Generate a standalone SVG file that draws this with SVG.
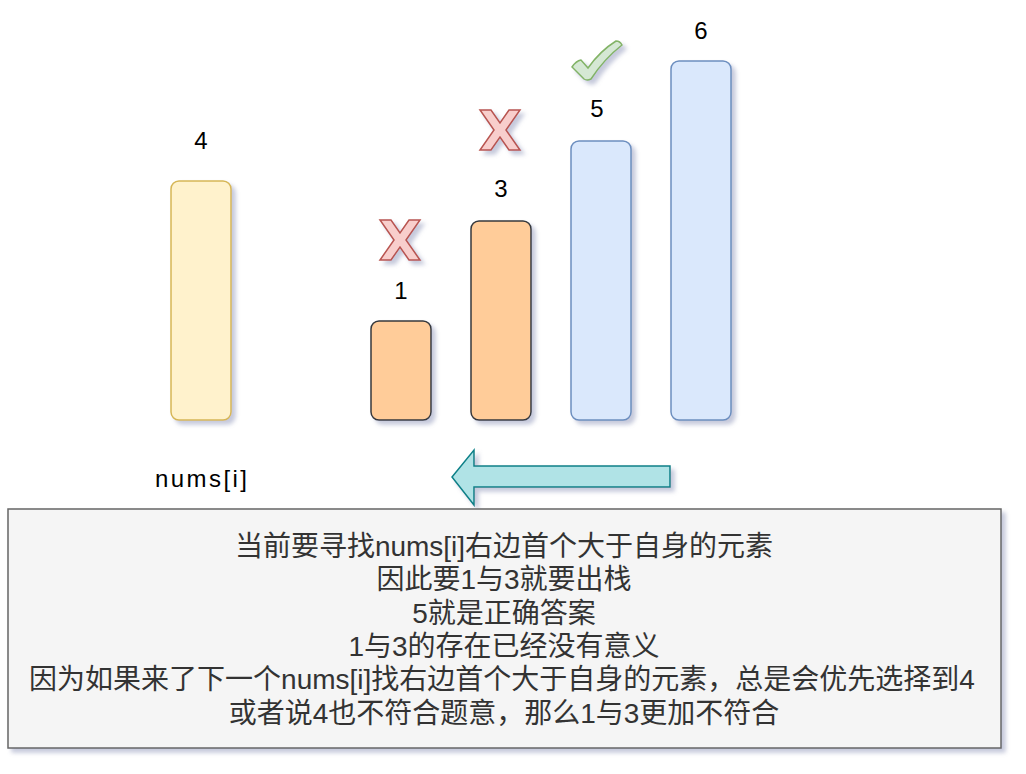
<svg xmlns="http://www.w3.org/2000/svg" width="1026" height="774" viewBox="0 0 1026 774">
<style>
  .lbl { font-family: "Liberation Sans", "Noto Sans CJK SC", sans-serif; font-size: 24px; fill: #000; text-anchor: middle; }
  .box-text { font-family: "Liberation Sans", "Noto Sans CJK SC", sans-serif; font-size: 28px; fill: #333333; text-anchor: middle; }
  .yellow { fill: #fff2cc; stroke: #d6b656; stroke-width: 1.5; }
  .orange { fill: #ffcc99; stroke: #36393d; stroke-width: 1.5; }
  .blue { fill: #dae8fc; stroke: #6c8ebf; stroke-width: 1.5; }
  .xmark { fill: #f8cecc; stroke: #b85450; stroke-width: 1.5; }
  .check { fill: #d5e8d4; stroke: #82b366; stroke-width: 1.5; }
</style>
<defs>
  <filter id="sh" x="-20%" y="-20%" width="150%" height="150%">
    <feGaussianBlur in="SourceAlpha" stdDeviation="2"/>
    <feOffset dx="4" dy="4" result="o"/>
    <feFlood flood-color="#8088b0" flood-opacity="0.45"/>
    <feComposite in2="o" operator="in"/>
    <feMerge><feMergeNode/><feMergeNode in="SourceGraphic"/></feMerge>
  </filter>
  <path id="xshape" d="M0,0 L11,0 L20,13 L29,0 L40,0 L26,20 L40,40 L29,40 L20,27 L11,40 L0,40 L14,20 Z"/>
</defs>
<rect width="1026" height="774" fill="#ffffff"/>

<g id="bar4" filter="url(#sh)">
  <rect class="yellow" x="171" y="181" width="60" height="239" rx="8"/>
</g>
<g id="label4"><text class="lbl" x="201" y="149">4</text></g>

<g id="bar1" filter="url(#sh)">
  <rect class="orange" x="371" y="321" width="60" height="99" rx="8"/>
</g>
<g id="label1"><text class="lbl" x="401" y="299">1</text></g>

<g id="bar3" filter="url(#sh)">
  <rect class="orange" x="471" y="221" width="60" height="199" rx="8"/>
</g>
<g id="label3"><text class="lbl" x="501" y="197">3</text></g>

<g id="bar5" filter="url(#sh)">
  <rect class="blue" x="571" y="141" width="60" height="279" rx="8"/>
</g>
<g id="label5"><text class="lbl" x="597" y="117">5</text></g>

<g id="bar6" filter="url(#sh)">
  <rect class="blue" x="671" y="61" width="60" height="359" rx="8"/>
</g>
<g id="label6"><text class="lbl" x="701" y="39">6</text></g>

<g id="x1" filter="url(#sh)">
  <use href="#xshape" class="xmark" transform="translate(380,220)"/>
</g>
<g id="x3" filter="url(#sh)">
  <use href="#xshape" class="xmark" transform="translate(480,110)"/>
</g>

<g id="check5" filter="url(#sh)">
  <path class="check" d="M572,67 Q576,61 581,60 L588,68 Q600,51 616,41 Q620,41 622,45 Q604,59 591,79 Q587,81 584,79 Z"/>
</g>

<g id="nums-label"><text class="lbl" x="201" y="487" textLength="92">nums[i]</text></g>

<g id="connectors">
  <polygon filter="url(#sh)" points="670,466 474,466 474,450 452,477 474,505 474,487 670,487" fill="#b0e3e6" stroke="#0e8088" stroke-width="1.5"/>
</g>

<g id="note" filter="url(#sh)">
  <rect x="8" y="509" width="993" height="239" fill="#f5f5f5" stroke="#666666" stroke-width="1.5"/>
</g>
<g id="note-text">
  <text class="box-text" x="504" y="556">当前要寻找nums[i]右边首个大于自身的元素</text>
  <text class="box-text" x="504" y="589">因此要1与3就要出栈</text>
  <text class="box-text" x="504" y="623">5就是正确答案</text>
  <text class="box-text" x="504" y="656">1与3的存在已经没有意义</text>
  <text class="box-text" x="502" y="689">因为如果来了下一个nums[i]找右边首个大于自身的元素，总是会优先选择到4</text>
  <text class="box-text" x="504" y="723">或者说4也不符合题意，那么1与3更加不符合</text>
</g>
</svg>
